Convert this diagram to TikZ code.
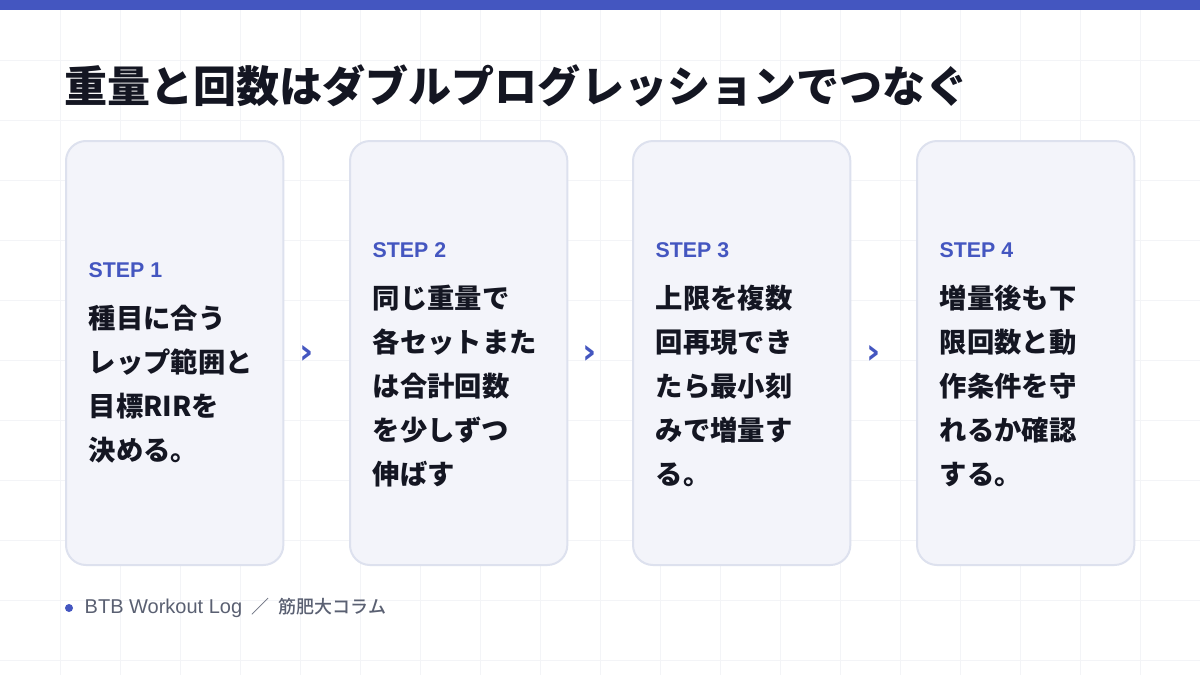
\documentclass[tikz,border=0pt]{standalone}
\usepackage{fontspec}
\setmainfont{Noto Sans CJK JP}
\newfontfamily\jpb{Noto Sans CJK JP}[UprightFont=* Black]
\newfontfamily\jpmed{Noto Sans CJK JP}[UprightFont=* Medium]
\newfontfamily\lat{Liberation Sans}
\newfontfamily\djv{DejaVu Sans}
\definecolor{accent}{HTML}{4456C0}
\definecolor{ink}{HTML}{141622}
\definecolor{cardfill}{HTML}{F3F4FA}
\definecolor{cardline}{HTML}{DDE1EE}
\definecolor{gridc}{HTML}{F3F4F7}
\definecolor{foot}{HTML}{5A6072}
\tikzset{
 card/.style={draw=cardline,line width=1.5pt,fill=cardfill,rounded corners=15pt,minimum width=163pt,minimum height=318pt,anchor=north west},
 body/.style={align=left,anchor=west,text=ink,font=\jpb\fontsize{20.5}{33}\selectfont},
 steplbl/.style={anchor=west,text=accent,font=\lat\bfseries\fontsize{16}{16}\selectfont},
 arr/.style={text=accent,font=\djv\bfseries\fontsize{26}{26}\selectfont}
}
\begin{document}
\begin{tikzpicture}[x=0.75pt,y=-0.75pt]
\useasboundingbox (0,0) rectangle (1200,675);
\fill[white] (0,0) rectangle (1200,675);
\foreach \i in {1,...,19} \draw[gridc,line width=0.6pt] (\i*60,0) -- (\i*60,675);
\foreach \j in {1,...,11} \draw[gridc,line width=0.6pt] (0,\j*60) -- (1200,\j*60);
\fill[accent] (0,0) rectangle (1200,10);
\node[anchor=west,text=ink,font=\jpb\fontsize{32.3}{32}\selectfont,inner sep=0] (title) at (64,86) {重量と回数はダブルプログレッションでつなぐ};
\node[card] (c1) at (65,140) {};
\node[card] (c2) at (349,140) {};
\node[card] (c3) at (632,140) {};
\node[card] (c4) at (916,140) {};
\node[steplbl] (s1) at (84,270) {STEP 1};
\node[body] (b1) at (84,384) {種目に合う\\レップ範囲と\\目標RIRを\\決める。};
\node[steplbl] (s2) at (368,250) {STEP 2};
\node[body] (b2) at (368,386) {同じ重量で\\各セットまた\\は合計回数\\を少しずつ\\伸ばす};
\node[steplbl] (s3) at (651,250) {STEP 3};
\node[body] (b3) at (651,386) {上限を複数\\回再現でき\\たら最小刻\\みで増量す\\る。};
\node[steplbl] (s4) at (935,250) {STEP 4};
\node[body] (b4) at (935,386) {増量後も下\\限回数と動\\作条件を守\\れるか確認\\する。};
\node[arr] (a1) at (307,354) {›};
\node[arr] (a2) at (590,354) {›};
\node[arr] (a3) at (874,354) {›};
\fill[accent] (69,608) circle (4);
\node[anchor=west,text=foot,font=\jpmed\fontsize{13.5}{13}\selectfont] (ft) at (80,608) {{\lat\fontsize{15}{14}\selectfont BTB Workout Log}\hspace{7pt}／\hspace{7pt}筋肥大コラム};
\end{tikzpicture}
\end{document}
